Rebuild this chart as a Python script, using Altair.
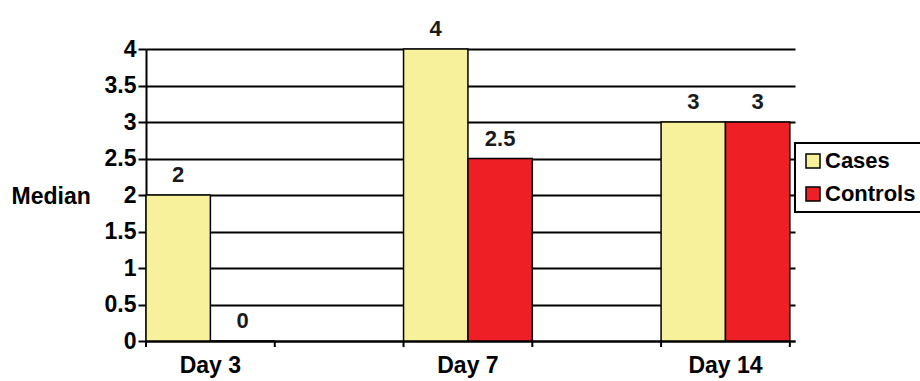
import altair as alt
import pandas as pd

days = ["Day 3", "Day 7", "Day 14"]
groups = ["Cases", "Controls"]
cases = [2, 4, 3]
controls = [0, 2.5, 3]
colors = ["#F7F19C", "#EE1F25"]
y_ticks = [0, 0.5, 1, 1.5, 2, 2.5, 3, 3.5, 4]

rows = []
for d, a, b in zip(days, cases, controls):
    rows.append({"day": d, "group": "Cases", "value": a})
    rows.append({"day": d, "group": "Controls", "value": b})
df = pd.DataFrame(rows)
df_days = pd.DataFrame({"day": days})

FONT = "Liberation Sans"
W, H = 649, 292

xscale = alt.Scale(domain=days, paddingInner=0.5, paddingOuter=0.01, align=0)

x_enc = alt.X("day:N", scale=xscale, sort=days,
              axis=alt.Axis(title=None, labelAngle=0, labelFont=FONT, labelFontSize=23,
                            labelFontWeight="bold", labelColor="black", labelPadding=13,
                            ticks=False, domainColor="black", domainWidth=2))
y_enc = alt.Y("value:Q", scale=alt.Scale(domain=[0, 4], nice=False),
              axis=alt.Axis(title="Median", values=y_ticks, format="~g", labelOverlap=False,
                            titleAngle=0, titleAlign="left", titleBaseline="middle",
                            titleX=-135, titleY=147, titleFont=FONT, titleFontSize=23,
                            titleFontWeight="bold", titleColor="black",
                            labelFont=FONT, labelFontSize=23, labelFontWeight="bold",
                            labelColor="black", labelPadding=2,
                            tickColor="black", tickWidth=2, tickSize=8,
                            domainColor="black", domainWidth=2,
                            grid=True, gridColor="black", gridWidth=2))

base = alt.Chart(df)

bars = base.mark_bar(stroke="black", strokeWidth=1.5).encode(
    x=x_enc,
    xOffset=alt.XOffset("group:N", sort=groups),
    y=y_enc,
    fill=alt.Fill("group:N", sort=groups,
                  scale=alt.Scale(domain=groups, range=colors),
                  legend=alt.Legend(title=None, orient="none", legendX=649, legendY=94,
                                    symbolType="square", symbolSize=196,
                                    symbolStrokeColor="black", symbolStrokeWidth=1.5,
                                    symbolOpacity=1, labelFont=FONT, labelFontSize=22,
                                    labelFontWeight="bold", labelColor="black",
                                    labelOffset=1, fillColor="white")),
)

labels = base.mark_text(font=FONT, fontSize=22, fontWeight="bold", color="#1a1a1a",
                        baseline="bottom", dy=-8).encode(
    x=x_enc,
    xOffset=alt.XOffset("group:N", sort=groups),
    y=y_enc,
    text=alt.Text("value:Q", format="~g"),
)

tick_start = alt.Chart(df_days).mark_rule(color="black", strokeWidth=2).encode(
    x=alt.X("day:N", scale=xscale, sort=days, bandPosition=0),
    y=alt.value(H), y2=alt.value(H + 6),
)
tick_end = alt.Chart(df_days).mark_rule(color="black", strokeWidth=2).encode(
    x=alt.X("day:N", scale=xscale, sort=days, bandPosition=1),
    y=alt.value(H), y2=alt.value(H + 6),
)

chart = alt.layer(bars, labels, tick_start, tick_end).properties(
    width=W, height=H,
    autosize=alt.AutoSizeParams(type="none"),
    padding={"left": 146, "top": 49, "right": 125, "bottom": 40},
    background="white",
).configure_view(stroke=None).configure_legend(
    strokeColor="black", strokeWidth=2, padding=7, rowPadding=11,
)

chart.save("out.html", embed_options={"renderer": "svg", "actions": False})
